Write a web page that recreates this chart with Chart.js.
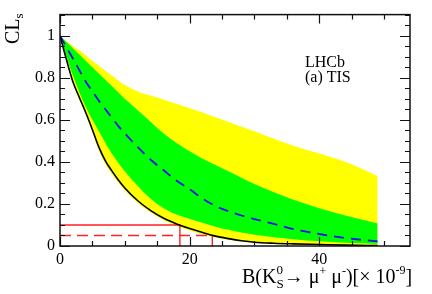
<!DOCTYPE html>
<html>
<head>
<meta charset="utf-8">
<script src="https://cdn.jsdelivr.net/npm/chart.js@4.4.0/dist/chart.umd.min.js"></script>
<style>
  html, body { margin: 0; padding: 0; background: #fff; }
  #wrap { width: 432px; height: 294px; }
</style>
</head>
<body>
<div id="wrap"><canvas id="cls" width="432" height="294"></canvas></div>
<script>
// branching fraction scan points [x 10^-9]
const branching = [0, 1, 2, 3, 4, 5, 6, 7, 8, 9, 10, 12, 14, 16, 18, 20, 22, 24, 26, 28, 30, 33, 36, 40, 44, 49];
// observed CLs
const observed = [1, 0.885, 0.78, 0.705, 0.632, 0.553, 0.47, 0.405, 0.357, 0.314, 0.276, 0.215, 0.168, 0.132, 0.105, 0.083, 0.064, 0.047, 0.035, 0.025, 0.018, 0.013, 0.010, 0.007, 0.004, 0.002];
// expected CLs (median)
const expected = [1, 0.945, 0.89, 0.835, 0.78, 0.735, 0.69, 0.65, 0.61, 0.57, 0.535, 0.47, 0.41, 0.36, 0.31, 0.27, 0.225, 0.19, 0.165, 0.145, 0.128, 0.105, 0.08, 0.057, 0.038, 0.022];
// +-1 sigma band
const sigma1Up = [1, 0.97, 0.94, 0.91, 0.88, 0.85, 0.82, 0.79, 0.76, 0.73, 0.70, 0.645, 0.59, 0.535, 0.49, 0.45, 0.415, 0.385, 0.355, 0.325, 0.295, 0.255, 0.22, 0.18, 0.145, 0.107];
const sigma1Down = [1, 0.90, 0.81, 0.73, 0.66, 0.60, 0.545, 0.49, 0.44, 0.395, 0.355, 0.285, 0.225, 0.18, 0.15, 0.13, 0.11, 0.092, 0.077, 0.064, 0.054, 0.042, 0.032, 0.022, 0.015, 0.01];
// +-2 sigma band
const sigma2Up = [1, 0.975, 0.95, 0.93, 0.905, 0.88, 0.857, 0.833, 0.81, 0.787, 0.765, 0.735, 0.715, 0.695, 0.675, 0.655, 0.635, 0.612, 0.59, 0.567, 0.545, 0.51, 0.477, 0.44, 0.40, 0.333];
const sigma2Down = [1, 0.88, 0.775, 0.695, 0.622, 0.54, 0.455, 0.39, 0.342, 0.30, 0.265, 0.205, 0.16, 0.122, 0.095, 0.074, 0.056, 0.041, 0.03, 0.021, 0.015, 0.01, 0.007, 0.004, 0.002, 0.001];
// limits at 90% and 95% CL
const clLevels = [0.1, 0.05];
const limits = [18.5, 23.5];

const xTicks = [0, 20, 40];
const yTicks = [0, 0.2, 0.4, 0.6, 0.8, 1];

const pts = arr => branching.map((x, i) => ({ x: x, y: arr[i] }));
const limitLine = k => [{ x: 0, y: clLevels[k] }, { x: limits[k], y: clLevels[k] }, { x: limits[k], y: 0 }];

Chart.defaults.font.family = '"Liberation Serif", "DejaVu Serif", serif';
Chart.defaults.font.size = 16;
Chart.defaults.color = '#000';

const serif = '"Liberation Serif", "DejaVu Serif", serif';

// draws runs of text with sizes and vertical offsets
function drawRuns(ctx, x, y, runs) {
  runs.forEach(r => {
    ctx.font = r.size + 'px ' + serif;
    ctx.fillText(r.t, x, y + (r.dy || 0));
    if (!r.stack) x += ctx.measureText(r.t).width;
  });
  return x;
}

const frame = {
  id: 'frame',
  afterDraw(chart) {
    const { ctx, chartArea: a, scales } = chart;
    const xs = scales.x, ys = scales.y;
    ctx.save();
    ctx.strokeStyle = '#111';
    ctx.lineWidth = 1.5;
    ctx.strokeRect(a.left, a.top, a.right - a.left, a.bottom - a.top);

    ctx.lineWidth = 1.2;
    ctx.beginPath();
    for (let v = 0; v <= 1.1001; v += 0.05) {
      const py = Math.round(ys.getPixelForValue(v)) + 0.5;
      const major = Math.abs(v * 5 - Math.round(v * 5)) < 1e-6;
      const len = major ? 10 : 5;
      ctx.moveTo(a.left, py); ctx.lineTo(a.left + len, py);
      ctx.moveTo(a.right, py); ctx.lineTo(a.right - len, py);
    }
    for (let v = 0; v <= 54; v += 5) {
      const px = Math.round(xs.getPixelForValue(v)) + 0.5;
      const len = v % 20 === 0 ? 9 : 5;
      ctx.moveTo(px, a.bottom); ctx.lineTo(px, a.bottom - len);
      ctx.moveTo(px, a.top); ctx.lineTo(px, a.top + len);
    }
    ctx.stroke();

    ctx.fillStyle = '#000';
    ctx.textBaseline = 'alphabetic';
    ctx.textAlign = 'left';

    // axis title x
    let x = drawRuns(ctx, 242, 283, [{ t: 'B(K', size: 20 }]);
    drawRuns(ctx, x, 283, [{ t: '0', size: 13, dy: -9, stack: true }]);
    x = drawRuns(ctx, x, 283, [{ t: 'S', size: 13, dy: 5 }]);
    drawRuns(ctx, x, 283, [
      { t: '\u2192 \u03bc', size: 20 }, { t: '+', size: 12, dy: -8 },
      { t: ' \u03bc', size: 20 }, { t: '-', size: 12, dy: -8 },
      { t: ')[\u00d7 10', size: 20 }, { t: '-9', size: 12, dy: -9 },
      { t: ']', size: 20 }
    ]);

    // axis title y
    ctx.save();
    ctx.translate(19, 44);
    ctx.rotate(-Math.PI / 2);
    let yx = drawRuns(ctx, 0, 0, [{ t: 'CL', size: 20 }]);
    drawRuns(ctx, yx, 0, [{ t: 's', size: 13, dy: 4 }]);
    ctx.restore();

    // label
    ctx.font = '16px ' + serif;
    ctx.fillText('LHCb', 305, 67);
    ctx.fillText('(a) TIS', 305, 82);
    ctx.restore();
  }
};

const line = (data, color, width, dash) => ({
  data: data, borderColor: color, borderWidth: width, borderDash: dash || [],
  pointRadius: 0, fill: false, cubicInterpolationMode: 'monotone'
});

new Chart(document.getElementById('cls'), {
  type: 'line',
  data: {
    datasets: [
      line(pts(observed), '#000', 1.6),
      line(pts(expected), '#1010ee', 1.8, [10, 7]),
      { ...line(limitLine(0), '#ff2020', 1.4), cubicInterpolationMode: 'default', tension: 0 },
      { ...line(limitLine(1), '#ff2020', 1.4, [11, 6]), cubicInterpolationMode: 'default', tension: 0 },
      { ...line(pts(sigma1Up), '#00ff00', 0), fill: '+1', backgroundColor: '#00ff00' },
      line(pts(sigma1Down), '#00ff00', 0),
      { ...line(pts(sigma2Up), '#ffff00', 0), fill: '+1', backgroundColor: '#ffff00' },
      line(pts(sigma2Down), '#ffff00', 0)
    ]
  },
  options: {
    responsive: false,
    animation: false,
    layout: { padding: { top: 14, right: 22, left: 0, bottom: 0 } },
    plugins: { legend: { display: false }, tooltip: { enabled: false } },
    scales: {
      x: {
        type: 'linear', min: 0, max: 54,
        afterFit: s => { s.height = 48; },
        grid: { display: false, drawTicks: false },
        border: { display: false },
        ticks: {
          includeBounds: false, padding: 4, maxRotation: 0,
          callback: v => xTicks.includes(v) ? String(v) : null
        },
        afterBuildTicks: s => { s.ticks = xTicks.map(v => ({ value: v })); }
      },
      y: {
        type: 'linear', min: 0, max: 1.1,
        afterFit: s => { s.width = 60; },
        grid: { display: false, drawTicks: false },
        border: { display: false },
        ticks: { includeBounds: false, padding: 5, callback: v => String(Math.round(v * 10) / 10) },
        afterBuildTicks: s => { s.ticks = yTicks.map(v => ({ value: v })); }
      }
    }
  },
  plugins: [frame]
});
</script>
</body>
</html>
